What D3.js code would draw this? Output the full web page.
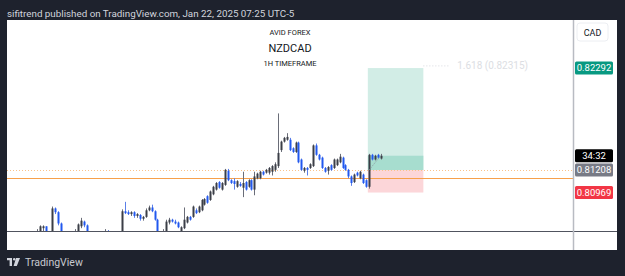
<!DOCTYPE html>
<html>
<head>
<meta charset="utf-8">
<script src="https://cdn.jsdelivr.net/npm/d3@7"></script>
<style>
  body { margin: 0; background: #1e222d; }
  svg { display: block; font-family: Roboto, "Noto Sans", sans-serif; }
</style>
</head>
<body>
<div class="chart"></div>
<script>
// hourly NZDCAD bars
var opens = [0.8052,0.8055,0.8059,0.8061,0.8054,0.8049,0.8080,0.8076,0.8064,0.8052,0.8049,0.8051,0.8048,0.8052,0.8056,0.8061,0.8066,0.8062,0.8055,0.8050,
  0.8047,0.8049,0.8046,0.8052,0.8054,0.8050,0.8045,0.8048,0.8046,0.8050,0.8077,0.8076,0.8074,0.8076,0.8072,0.8073,0.8069,0.8071,0.8078,0.8081,
  0.8077,0.8068,0.8054,0.8050,0.8053,0.8065,0.8068,0.8066,0.8065,0.8055,0.8059,0.8065,0.8071,0.8071,0.8078,0.8076,0.8078,0.8084,0.8093,0.8089,
  0.8095,0.8100,0.8108,0.8100,0.8105,0.8120,0.8110,0.8109,0.8103,0.8106,0.8102,0.8108,0.8103,0.8110,0.8100,0.8112,0.8112,0.8119,0.8118,0.8118,
  0.8119,0.8121,0.8125,0.8142,0.8151,0.8153,0.8153,0.8144,0.8140,0.8150,0.8132,0.8120,0.8123,0.8123,0.8125,0.8147,0.8137,0.8134,0.8123,0.8120,
  0.8126,0.8123,0.8126,0.8129,0.8134,0.8126,0.8121,0.8114,0.8108,0.8118,0.8112,0.8116,0.8110,0.8103,0.8137,0.8132,0.8137,0.8133];
var highs = [0.8058,0.8062,0.8062,0.8061,0.8055,0.8082,0.8081,0.8077,0.8065,0.8054,0.8053,0.8054,0.8053,0.8058,0.8064,0.8070,0.8067,0.8063,0.8056,0.8053,
  0.8051,0.8052,0.8054,0.8058,0.8057,0.8053,0.8050,0.8051,0.8052,0.8079,0.8087,0.8078,0.8077,0.8077,0.8075,0.8074,0.8072,0.8080,0.8083,0.8084,
  0.8078,0.8069,0.8056,0.8058,0.8068,0.8070,0.8069,0.8068,0.8066,0.8061,0.8081,0.8072,0.8072,0.8083,0.8080,0.8083,0.8090,0.8091,0.8094,0.8099,
  0.8104,0.8108,0.8109,0.8108,0.8122,0.8122,0.8111,0.8112,0.8110,0.8108,0.8119,0.8109,0.8111,0.8111,0.8119,0.8118,0.8120,0.8120,0.8122,0.8124,
  0.8126,0.8129,0.8181,0.8152,0.8156,0.8160,0.8155,0.8145,0.8151,0.8151,0.8133,0.8124,0.8124,0.8128,0.8148,0.8149,0.8138,0.8135,0.8124,0.8125,
  0.8127,0.8133,0.8133,0.8138,0.8135,0.8127,0.8122,0.8115,0.8117,0.8119,0.8120,0.8117,0.8111,0.8138,0.8138,0.8137,0.8138,0.8138];
var lows = [0.8049,0.8052,0.8055,0.8053,0.8046,0.8047,0.8074,0.8062,0.8048,0.8045,0.8044,0.8046,0.8045,0.8050,0.8054,0.8059,0.8060,0.8052,0.8047,0.8044,
  0.8042,0.8045,0.8044,0.8050,0.8048,0.8043,0.8041,0.8044,0.8043,0.8048,0.8074,0.8073,0.8072,0.8070,0.8070,0.8067,0.8067,0.8070,0.8077,0.8076,
  0.8067,0.8050,0.8046,0.8048,0.8052,0.8063,0.8065,0.8063,0.8059,0.8053,0.8058,0.8064,0.8067,0.8070,0.8074,0.8075,0.8077,0.8083,0.8085,0.8088,
  0.8094,0.8099,0.8101,0.8099,0.8104,0.8109,0.8106,0.8100,0.8102,0.8103,0.8092,0.8099,0.8102,0.8099,0.8094,0.8111,0.8111,0.8115,0.8117,0.8116,
  0.8115,0.8119,0.8123,0.8140,0.8150,0.8152,0.8141,0.8139,0.8139,0.8128,0.8120,0.8118,0.8115,0.8122,0.8124,0.8136,0.8131,0.8122,0.8118,0.8116,
  0.8120,0.8122,0.8125,0.8128,0.8122,0.8120,0.8112,0.8104,0.8107,0.8114,0.8111,0.8106,0.8102,0.8101,0.8131,0.8131,0.8133,0.8132];
var closes = [0.8055,0.8061,0.8061,0.8055,0.8049,0.8080,0.8076,0.8064,0.8052,0.8049,0.8051,0.8048,0.8052,0.8056,0.8063,0.8067,0.8062,0.8055,0.8050,0.8047,
  0.8049,0.8046,0.8052,0.8054,0.8050,0.8045,0.8048,0.8046,0.8050,0.8077,0.8075,0.8074,0.8076,0.8072,0.8074,0.8069,0.8071,0.8078,0.8081,0.8077,
  0.8068,0.8054,0.8050,0.8053,0.8066,0.8068,0.8066,0.8064,0.8060,0.8060,0.8068,0.8071,0.8068,0.8082,0.8075,0.8082,0.8089,0.8090,0.8086,0.8098,
  0.8103,0.8107,0.8102,0.8107,0.8121,0.8110,0.8107,0.8106,0.8109,0.8104,0.8107,0.8100,0.8110,0.8100,0.8114,0.8117,0.8119,0.8116,0.8121,0.8123,
  0.8125,0.8127,0.8139,0.8151,0.8155,0.8156,0.8142,0.8140,0.8150,0.8129,0.8121,0.8123,0.8121,0.8127,0.8147,0.8137,0.8132,0.8123,0.8119,0.8124,
  0.8121,0.8132,0.8132,0.8135,0.8123,0.8121,0.8114,0.8107,0.8116,0.8115,0.8119,0.8107,0.8103,0.8137,0.8132,0.8136,0.8134,0.8136];

// long position tool
var entryBar = 113;
var positionEndBar = 131.5;
var entryPrice = 0.81208;
var targetPrice = 0.82292;
var stopPrice = 0.80969;
var fibLevel = { ratio: '1.618', price: 0.82315 };
var supportPrice = 0.81123;
var countdown = '34:32';

var titleLines = ['AVID FOREX', 'NZDCAD', '1H TIMEFRAME'];
var headerText = 'sifitrend published on TradingView.com, Jan 22, 2025 07:25 UTC-5';

var bars = opens.map(function(o, i) {
  return { i: i, o: o, h: highs[i], l: lows[i], c: closes[i] };
});

var W = 625, H = 276;
var plotLeft = 7, plotRight = 573, plotTop = 20, plotBottom = 231.5, paneBottom = 250, paneRight = 617;

var x = d3.scaleLinear().domain([0, entryBar]).range([37, 369]);
var y = d3.scaleLinear().domain([0.8056, 0.8250]).range([231, 48.5]);

var svg = d3.select('.chart').append('svg')
  .attr('width', W)
  .attr('height', H);

svg.append('rect').attr('width', W).attr('height', H).attr('fill', '#1e222d');
svg.append('rect')
  .attr('x', plotLeft).attr('y', plotTop)
  .attr('width', paneRight - plotLeft).attr('height', paneBottom - plotTop)
  .attr('fill', '#ffffff');

svg.append('defs').append('clipPath').attr('id', 'plot')
  .append('rect')
  .attr('x', plotLeft).attr('y', plotTop)
  .attr('width', plotRight - plotLeft).attr('height', plotBottom - plotTop);

var plot = svg.append('g').attr('clip-path', 'url(#plot)');

// position boxes
var bx0 = x(entryBar - 0.4), bx1 = x(positionEndBar);
var lastClose = closes[closes.length - 1];
plot.append('rect')
  .attr('x', bx0).attr('y', y(targetPrice))
  .attr('width', bx1 - bx0).attr('height', y(entryPrice) - y(targetPrice))
  .attr('fill', '#d2ede6');
plot.append('rect')
  .attr('x', bx0).attr('y', y(lastClose))
  .attr('width', bx1 - bx0).attr('height', y(entryPrice) - y(lastClose))
  .attr('fill', '#a7ddcf');
plot.append('rect')
  .attr('x', bx0).attr('y', y(entryPrice))
  .attr('width', bx1 - bx0).attr('height', y(stopPrice) - y(entryPrice))
  .attr('fill', '#fcd6d9');

// fib extension level
plot.append('line')
  .attr('x1', bx1).attr('x2', x(140.5))
  .attr('y1', y(fibLevel.price)).attr('y2', y(fibLevel.price))
  .attr('stroke', '#d6d8de').attr('stroke-width', 1).attr('stroke-dasharray', '1,2');
plot.append('text')
  .attr('x', x(143)).attr('y', y(fibLevel.price) + 3.5)
  .attr('font-size', 10).attr('fill', '#dcdee3')
  .text(fibLevel.ratio + ' (' + fibLevel.price.toFixed(5) + ')');

// horizontal lines
plot.append('line')
  .attr('x1', plotLeft).attr('x2', plotRight)
  .attr('y1', Math.round(y(entryPrice)) + 0.5).attr('y2', Math.round(y(entryPrice)) + 0.5)
  .attr('stroke', '#f9c28a').attr('stroke-width', 1).attr('stroke-dasharray', '1,2');
plot.append('line')
  .attr('x1', plotLeft).attr('x2', plotRight)
  .attr('y1', Math.round(y(supportPrice)) + 0.5).attr('y2', Math.round(y(supportPrice)) + 0.5)
  .attr('stroke', '#f7a04b').attr('stroke-width', 1.2);

// candles
var candle = plot.append('g').selectAll('g')
  .data(bars)
  .enter().append('g');

candle.append('line')
  .attr('x1', function(d) { return Math.round(x(d.i)) + 0.5; })
  .attr('x2', function(d) { return Math.round(x(d.i)) + 0.5; })
  .attr('y1', function(d) { return y(d.h); })
  .attr('y2', function(d) { return y(d.l); })
  .attr('stroke', function(d) { return d.c >= d.o ? '#6a6d78' : '#5b7fe8'; })
  .attr('stroke-width', 1);

candle.append('rect')
  .attr('x', function(d) { return Math.round(x(d.i)) - 0.5; })
  .attr('width', 2)
  .attr('y', function(d) { return y(Math.max(d.o, d.c)); })
  .attr('height', function(d) { return Math.max(1, Math.abs(y(d.o) - y(d.c))); })
  .attr('fill', function(d) { return d.c >= d.o ? '#3b3e47' : '#2158ef'; });

// trade line inside the box
plot.append('line')
  .attr('x1', x(entryBar)).attr('y1', y(entryPrice))
  .attr('x2', x(bars.length - 1)).attr('y2', y(lastClose))
  .attr('stroke', '#8a8e99').attr('stroke-width', 1).attr('stroke-dasharray', '1,1.5');

// pane frame lines
svg.append('line')
  .attr('x1', plotLeft).attr('x2', paneRight)
  .attr('y1', plotBottom).attr('y2', plotBottom)
  .attr('stroke', '#50535e').attr('stroke-width', 1);
svg.append('line')
  .attr('x1', plotRight + 0.5).attr('x2', plotRight + 0.5)
  .attr('y1', plotTop).attr('y2', paneBottom)
  .attr('stroke', '#b8bbc2').attr('stroke-width', 1.5);

// titles
var titleSizes = [7.5, 11, 7.5];
var titleY = [35, 51.5, 65.5];
svg.append('g').selectAll('text')
  .data(titleLines)
  .enter().append('text')
  .attr('x', 290)
  .attr('y', function(d, i) { return titleY[i]; })
  .attr('text-anchor', 'middle')
  .attr('font-size', function(d, i) { return titleSizes[i]; })
  .attr('fill', '#131722')
  .text(function(d) { return d; });

// currency box
svg.append('rect')
  .attr('x', 577).attr('y', 23).attr('width', 31).attr('height', 18).attr('rx', 3)
  .attr('fill', '#ffffff').attr('stroke', '#eceef2');
svg.append('text')
  .attr('x', 592.5).attr('y', 35.5).attr('text-anchor', 'middle')
  .attr('font-size', 9).attr('fill', '#131722').text('CAD');

// price axis labels
var axisLabels = [
  { price: targetPrice, text: targetPrice.toFixed(5), bg: '#089981', fg: '#ffffff' },
  { price: lastClose, text: countdown, bg: '#000000', fg: '#ffffff' },
  { price: entryPrice, text: entryPrice.toFixed(5), bg: '#787b86', fg: '#ffffff' },
  { price: stopPrice, text: stopPrice.toFixed(5), bg: '#f23645', fg: '#ffffff' }
];
var lab = svg.append('g').selectAll('g')
  .data(axisLabels)
  .enter().append('g')
  .attr('transform', function(d) { return 'translate(575,' + y(d.price) + ')'; });
lab.append('rect')
  .attr('x', 0).attr('y', -6.5).attr('width', 38).attr('height', 13).attr('rx', 1.5)
  .attr('fill', function(d) { return d.bg; });
lab.append('text')
  .attr('x', 19).attr('y', 3.3).attr('text-anchor', 'middle')
  .attr('font-size', 9.5)
  .attr('fill', function(d) { return d.fg; })
  .text(function(d) { return d.text; });

// header and footer
svg.append('text')
  .attr('x', 7).attr('y', 16.5)
  .attr('font-size', 9.8).attr('fill', '#d1d4dc')
  .text(headerText);

var logo = svg.append('g').attr('transform', 'translate(7,258)').attr('fill', '#d1d4dc');
logo.append('path').attr('d', 'M0 0 H5 V8 H2.6 V2.2 H0 Z');
logo.append('circle').attr('cx', 7.2).attr('cy', 1.2).attr('r', 1.2);
logo.append('path').attr('d', 'M9 0 H13 L9.8 8 H6.6 Z');
svg.append('text')
  .attr('x', 25).attr('y', 266)
  .attr('font-size', 10.5).attr('fill', '#c8cad0')
  .text('TradingView');
</script>
</body>
</html>
